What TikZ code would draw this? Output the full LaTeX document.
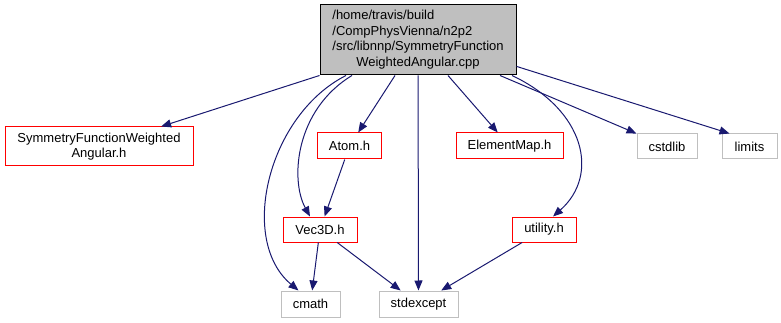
\documentclass[tikz,border=0pt]{standalone}
\usepackage{fontspec}
\setmainfont{Liberation Sans}
\usetikzlibrary{arrows.meta}
\definecolor{edgeblue}{RGB}{25,25,112}
\definecolor{boxgray}{RGB}{191,191,191}
\begin{document}
\begin{tikzpicture}[x = 1pt, y = -1pt,
	every node/.style = {font = \fontsize{13}{15.5}\selectfont, inner sep = 0pt, line width = 1pt},
	filebox/.style = {draw = boxgray, fill = boxgray, text = black},
	hdrbox/.style = {draw = red, fill = white},
	sysbox/.style = {draw = boxgray, fill = white},
	dep/.style = {draw = edgeblue, line width = 1pt, -{Triangle[length = 10pt, width = 8pt]}}]
	\useasboundingbox (0,0) rectangle (781,323);
	\node [filebox, draw = black, minimum width = 196, minimum height = 70] (cpp) at (418,40)
		{\begin{tabular}{@{}l@{}}/home/travis/build\\/CompPhysVienna/n2p2\\/src/libnnp/SymmetryFunction\\\multicolumn{1}{@{}c@{}}{WeightedAngular.cpp}\end{tabular}};
	\node [hdrbox, minimum width = 188, minimum height = 39, align = center] (sfwa) at (99,146.5) {SymmetryFunctionWeighted\\Angular.h};
	\node [hdrbox, minimum width = 64, minimum height = 26] (atom) at (349.5,146) {Atom.h};
	\node [hdrbox, minimum width = 107, minimum height = 26] (elmap) at (509.5,146) {ElementMap.h};
	\node [sysbox, minimum width = 60, minimum height = 25] (cstdlib) at (667,146.5) {cstdlib};
	\node [sysbox, minimum width = 55, minimum height = 25] (limits) at (749.5,146.5) {limits};
	\node [hdrbox, minimum width = 74, minimum height = 25] (vec) at (320,229.5) {Vec3D.h};
	\node [hdrbox, minimum width = 64, minimum height = 25] (utility) at (544,229.5) {utility.h};
	\node [sysbox, minimum width = 59, minimum height = 26] (cmath) at (310.5,304) {cmath};
	\node [sysbox, minimum width = 79, minimum height = 26] (stdexc) at (418.5,304) {stdexcept};
	\draw [dep] (cpp.south west) -- (sfwa);
	\draw [dep] ([xshift = -72]cpp.south) .. controls (268,115) and (238,240) .. ([xshift = -12]cmath.north);
	\draw [dep] ([xshift = -66]cpp.south) .. controls (295,110) and (290,180) .. ([xshift = -10]vec.north);
	\draw [dep] ([xshift = -23]cpp.south) -- (atom);
	\draw [dep] (cpp) -- (stdexc);
	\draw [dep] ([xshift = 30]cpp.south) -- (elmap);
	\draw [dep] ([xshift = 94]cpp.south) .. controls (585,110) and (600,175) .. ([xshift = 9]utility.north);
	\draw [dep] ([xshift = 82]cpp.south) -- (cstdlib);
	\draw [dep] (cpp.-15) -- ([xshift = -20]limits.north);
	\draw [dep] (atom) -- (vec);
	\draw [dep] (vec) -- (cmath);
	\draw [dep] (vec) -- (stdexc);
	\draw [dep] (utility) -- (stdexc);
\end{tikzpicture}
\end{document}
